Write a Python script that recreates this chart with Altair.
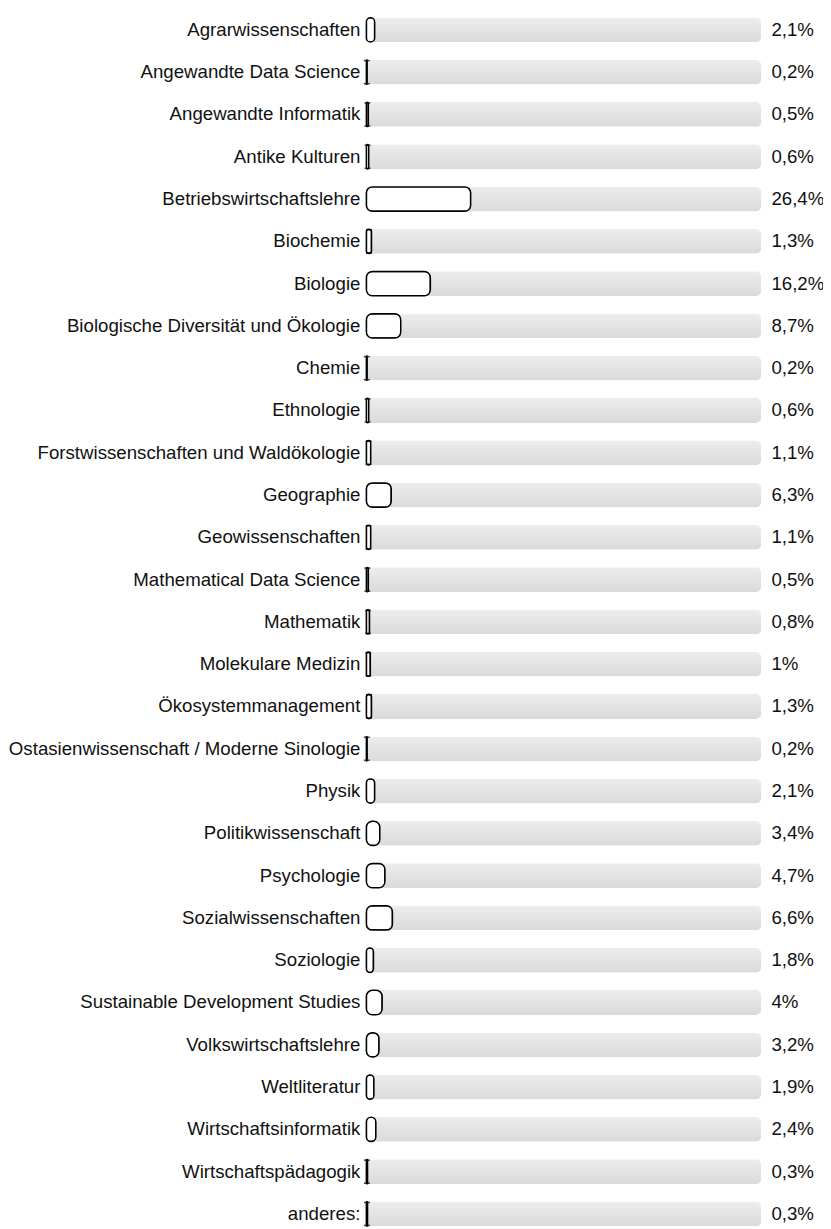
import altair as alt
import pandas as pd

categories = [
    "Agrarwissenschaften", "Angewandte Data Science", "Angewandte Informatik",
    "Antike Kulturen", "Betriebswirtschaftslehre", "Biochemie", "Biologie",
    "Biologische Diversität und Ökologie", "Chemie", "Ethnologie",
    "Forstwissenschaften und Waldökologie", "Geographie", "Geowissenschaften",
    "Mathematical Data Science", "Mathematik", "Molekulare Medizin",
    "Ökosystemmanagement", "Ostasienwissenschaft / Moderne Sinologie", "Physik",
    "Politikwissenschaft", "Psychologie", "Sozialwissenschaften", "Soziologie",
    "Sustainable Development Studies", "Volkswirtschaftslehre", "Weltliteratur",
    "Wirtschaftsinformatik", "Wirtschaftspädagogik", "anderes:",
]
values = [2.1, 0.2, 0.5, 0.6, 26.4, 1.3, 16.2, 8.7, 0.2, 0.6, 1.1, 6.3, 1.1,
          0.5, 0.8, 1.0, 1.3, 0.2, 2.1, 3.4, 4.7, 6.6, 1.8, 4.0, 3.2, 1.9, 2.4,
          0.3, 0.3]
labels = ["2,1%", "0,2%", "0,5%", "0,6%", "26,4%", "1,3%", "16,2%", "8,7%",
          "0,2%", "0,6%", "1,1%", "6,3%", "1,1%", "0,5%", "0,8%", "1%", "1,3%",
          "0,2%", "2,1%", "3,4%", "4,7%", "6,6%", "1,8%", "4%", "3,2%", "1,9%",
          "2,4%", "0,3%", "0,3%"]

df = pd.DataFrame({"cat": categories, "val": values, "lab": labels,
                   "full": [100.0] * len(categories)})

PLOT_W = 398
STEP = 42.6
YOFF = -3.8
FONT = "Liberation Sans"
FS = 18.8

x_scale = alt.Scale(domain=[0, 100], range=[0, PLOT_W])
y_enc = alt.Y("cat:N", sort=categories, axis=None,
              scale=alt.Scale(paddingInner=0, paddingOuter=0))

base = alt.Chart(df)

grey = alt.Gradient(
    gradient="linear",
    stops=[alt.GradientStop(color="#ededed", offset=0),
           alt.GradientStop(color="#dadada", offset=1)],
    x1=0, x2=0, y1=0, y2=1,
)

bg = base.mark_bar(color=grey, cornerRadius=6, size=25, yOffset=YOFF).encode(
    x=alt.X("full:Q", scale=x_scale, axis=None),
    y=y_enc,
)

fg = base.mark_bar(fill="white", stroke="black", strokeWidth=1.5,
                   cornerRadius=6, size=24.5, yOffset=YOFF).encode(
    x=alt.X("val:Q", scale=x_scale, axis=None),
    y=y_enc,
)

small = base.transform_filter("datum.val < 1.5").transform_calculate(
    mid="datum.val / 2")
serif_top = small.mark_tick(color="black", thickness=6, size=1.6,
                            yOffset=YOFF - 11.6).encode(
    x=alt.X("mid:Q", scale=x_scale, axis=None),
    y=y_enc,
)
serif_bot = small.mark_tick(color="black", thickness=6, size=1.6,
                            yOffset=YOFF + 11.6).encode(
    x=alt.X("mid:Q", scale=x_scale, axis=None),
    y=y_enc,
)

cat_text = base.mark_text(align="right", baseline="middle", font=FONT,
                          fontSize=FS, color="#111111", yOffset=YOFF).encode(
    x=alt.value(-6),
    y=y_enc,
    text="cat:N",
)

val_text = base.mark_text(align="left", baseline="middle", font=FONT,
                          fontSize=FS, color="#111111", yOffset=YOFF).encode(
    x=alt.value(408),
    y=y_enc,
    text="lab:N",
)

chart = alt.layer(bg, fg, serif_top, serif_bot, cat_text, val_text).properties(
    width=PLOT_W,
    height=STEP * len(categories),
    autosize=alt.AutoSizeParams(type="none"),
    padding={"left": 361, "top": 0, "right": 62, "bottom": 0},
).configure_view(stroke=None)

chart.save("out.html", embed_options={"renderer": "svg", "actions": False})
